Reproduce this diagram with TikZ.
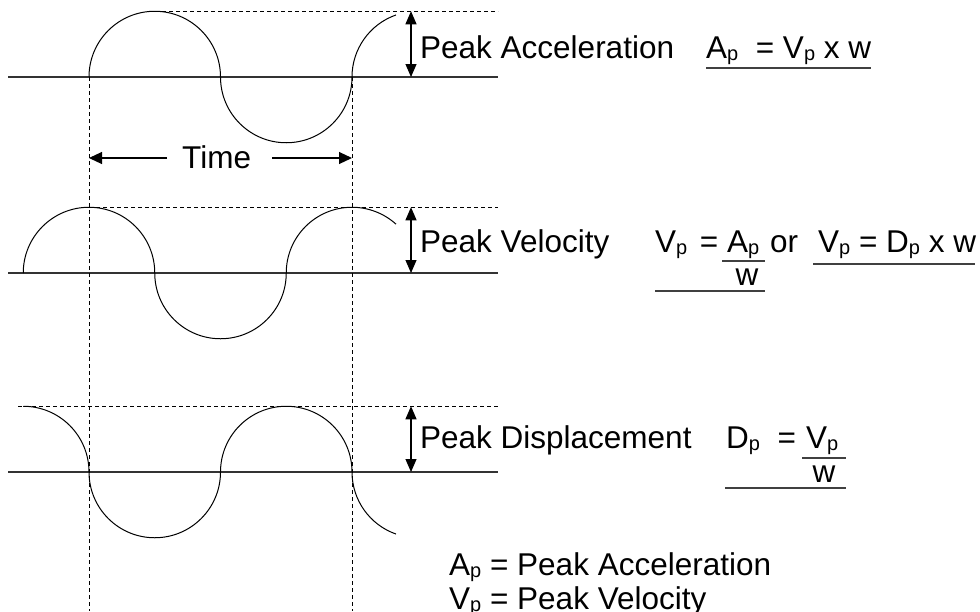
\documentclass[tikz,border=0pt]{standalone}
\usepackage{fontspec}
\setmainfont{Liberation Sans}
\usetikzlibrary{arrows.meta}
\newcommand{\Sub}[1]{\raisebox{-2.5pt}{\fontsize{20}{20}\selectfont #1}}

\begin{document}
\begin{tikzpicture}[x=1pt, y=-1pt, line join=round,
    wave/.style={line width=1pt},
    zeroline/.style={line width=1.2pt, black!80},
    guide/.style={line width=1pt, dash pattern=on 4pt off 3pt},
    dim/.style={line width=1.1pt, {Triangle[length=13pt,width=11pt]}-{Triangle[length=13pt,width=11pt]}},
    tip/.style={line width=1.1pt, -{Triangle[length=13pt,width=12pt]}},
    txt/.style={anchor=base west, inner sep=0pt, font=\fontsize{31.5}{36}\selectfont},
    uline/.style={line width=1.2pt, black!75}]

    \clip (0,0) rectangle (980,611);

    % zero lines
    \draw[zeroline] (8,77) -- (498,77);
    \draw[zeroline] (8,273) -- (498,273);
    \draw[zeroline] (8,472) -- (498,472);

    % peak levels
    \draw[guide] (155,11.25) -- (498,11.25);
    \draw[guide] (89,207.25) -- (498,207.25);
    \draw[guide] (18,406.25) -- (498,406.25);

    % one period
    \draw[guide] (89,77) -- (89,611);
    \draw[guide] (352,77) -- (352,611);

    % acceleration
    \draw[wave] (89,77) arc[start angle=180, end angle=360, radius=65.75]
        arc[start angle=180, end angle=0, radius=65.75]
        arc[start angle=180, end angle=250.7, radius=65.75];
    % velocity
    \draw[wave] (23.25,273) arc[start angle=180, end angle=360, radius=65.75]
        arc[start angle=180, end angle=0, radius=65.75]
        arc[start angle=180, end angle=312, radius=65.75];
    % displacement
    \draw[wave] (23.25,406.25) arc[start angle=270, end angle=360, radius=65.75]
        arc[start angle=180, end angle=0, radius=65.75]
        arc[start angle=180, end angle=360, radius=65.75]
        arc[start angle=180, end angle=109.3, radius=65.75];

    % peak arrows
    \coordinate (accTop) at (411,11.25);
    \coordinate (accBase) at (411,77);
    \coordinate (velTop) at (411,207.25);
    \coordinate (velBase) at (411,273);
    \coordinate (dspTop) at (411,406.25);
    \coordinate (dspBase) at (411,472);
    \draw[dim] (accTop) -- (accBase);
    \draw[dim] (velTop) -- (velBase);
    \draw[dim] (dspTop) -- (dspBase);

    % time
    \node[txt] (time) at (182,168) {Time};
    \coordinate (tA) at (167,158);
    \coordinate (tL) at (89,158);
    \coordinate (tB) at (272,158);
    \coordinate (tR) at (352,158);
    \draw[tip] (tA) -- (tL);
    \draw[tip] (tB) -- (tR);

    % acceleration text
    \node[txt] (accLbl) at (420,58) {Peak Acceleration};
    \node[txt] (accEq) at (706,58) {A\Sub{p}~~= V\Sub{p} x w};
    \draw[uline] ([yshift=-10pt]accEq.base west) -- ([yshift=-10pt]accEq.base east);

    % velocity text
    \node[txt] (velLbl) at (420,252) {Peak Velocity};
    \node[txt] (velEq) at (655,252) {V\Sub{p}\hspace{0.4em}=};
    \node[txt] (velNum) at (727,252) {A\Sub{p}};
    \node[txt, anchor=base] (velDen) at (747,285) {w};
    \node[txt] (velOr) at (770,252) {or};
    \node[txt] (velAlt) at (818,252) {V\Sub{p} = D\Sub{p} x w};
    \draw[uline] (722,261) -- (765,261);
    \draw[uline] (655,291) -- (765,291);
    \draw[uline] (813,264) -- (975,264);

    % displacement text
    \node[txt] (dspLbl) at (420,448) {Peak Displacement};
    \node[txt] (dspEq) at (726,448) {D\Sub{p}~~=};
    \node[txt] (dspNum) at (806,448) {V\Sub{p}};
    \node[txt, anchor=base] (dspDen) at (824,482) {w};
    \draw[uline] (802,458) -- (846,458);
    \draw[uline] (725,488) -- (846,488);

    % key
    \node[txt] (keyA) at (449,575) {A\Sub{p} = Peak Acceleration};
    \node[txt] (keyV) at (449,609) {V\Sub{p} = Peak Velocity};

\end{tikzpicture}
\end{document}
